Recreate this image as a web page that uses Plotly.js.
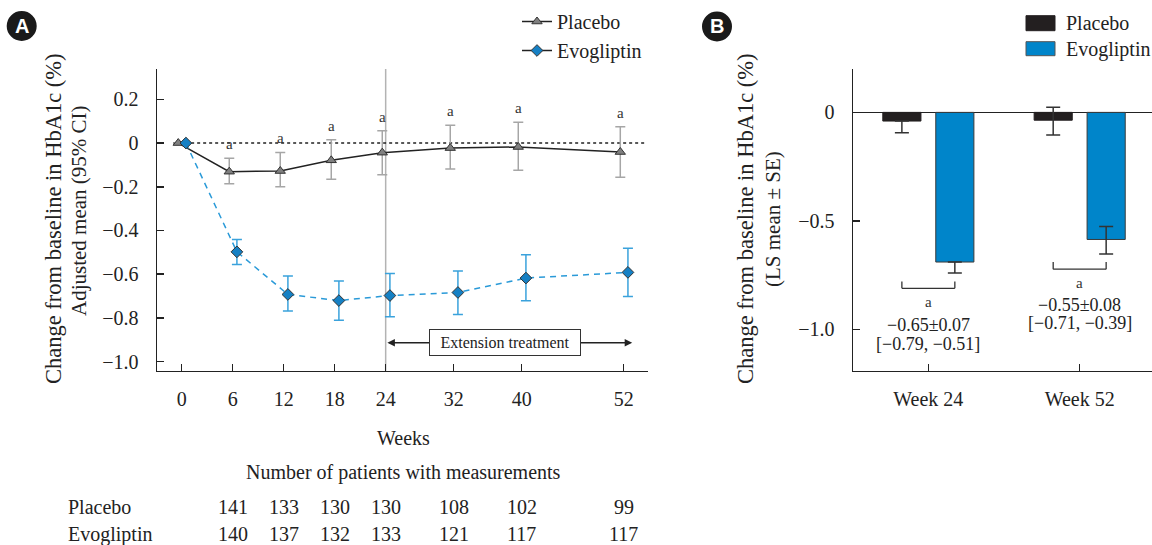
<!DOCTYPE html>
<html><head><meta charset="utf-8">
<script src="https://cdn.plot.ly/plotly-3.0.1.min.js"></script>
<style>html,body{margin:0;padding:0;background:#fff}</style>
</head><body><div id="chart" style="width:1152px;height:545px"></div>
<script>
// ---- Panel A data ----
const weeks = [0, 6, 12, 18, 24, 32, 40, 52];
const weekLabels = ['0', '6', '12', '18', '24', '32', '40', '52'];
const placeboMean = [0, -0.131, -0.128, -0.079, -0.044, -0.023, -0.018, -0.041];
const placeboHi   = [0, -0.070, -0.043,  0.015,  0.056,  0.081,  0.095,  0.075];
const placeboLo   = [0, -0.186, -0.200, -0.166, -0.145, -0.119, -0.125, -0.156];
const evogMean = [0, -0.498, -0.693, -0.721, -0.698, -0.684, -0.618, -0.592];
const evogHi   = [0, -0.441, -0.609, -0.631, -0.597, -0.586, -0.511, -0.482];
const evogLo   = [0, -0.556, -0.769, -0.811, -0.795, -0.785, -0.722, -0.702];
const sigWeeks = [6, 12, 18, 24, 32, 40, 52];
const yTicksA = [0.2, 0, -0.2, -0.4, -0.6, -0.8, -1.0];
const yTickTextA = ['0.2', '0', '\u22120.2', '\u22120.4', '\u22120.6', '\u22120.8', '\u22121.0'];
// patients with measurements
const countWeeks = [6, 12, 18, 24, 32, 40, 52];
const placeboN = [141, 133, 130, 130, 108, 102, 99];
const evogN = [140, 137, 132, 133, 121, 117, 117];

// ---- Panel B data ----
const bCats = ['Week 24', 'Week 52'];
const bPlacebo = [-0.040, -0.036];
const bEvog = [-0.690, -0.586];
const bPlaceboErrUp = [0, 0.060];
const bPlaceboErrDn = [0.054, 0.068];
const bEvogErrUp = [0, 0.060];
const bEvogErrDn = [0.050, 0.067];
const bDiffText = ['\u22120.65\u00b10.07', '\u22120.55\u00b10.08'];
const bCiText = ['[\u22120.79, \u22120.51]', '[\u22120.71, \u22120.39]'];

const W = 1152, H = 545;
const px = x => x / W;
const py = y => 1 - y / H;
const SERIF = 'Liberation Serif, Times New Roman, serif';
const GRAYM = '#808080', BLUEM = '#1580c4', BLUEL = '#2a9ad8', BLUEE = '#3aa2dc';

const pOff = -0.4, eOff = 0.5;
const placeboX = weeks.map(w => w + pOff);
const evogX = weeks.map(w => w + eOff);

const traces = [
  {
    x: placeboX, y: placeboMean, type: 'scatter', mode: 'lines+markers',
    xaxis: 'x', yaxis: 'y', showlegend: false, name: 'Placebo',
    line: {color: '#222', width: 1.5},
    marker: {symbol: 'triangle-up', size: 9, color: GRAYM, line: {color: '#333', width: 1}},
    error_y: {type: 'data', symmetric: false,
      array: placeboHi.map((h, i) => h - placeboMean[i]),
      arrayminus: placeboMean.map((m, i) => m - placeboLo[i]),
      color: '#a6a6a6', thickness: 1.5, width: 5}
  },
  {
    x: evogX, y: evogMean, type: 'scatter', mode: 'lines+markers',
    xaxis: 'x', yaxis: 'y', showlegend: false, name: 'Evogliptin',
    line: {color: BLUEL, width: 1.5, dash: '6px,5px'},
    marker: {symbol: 'diamond', size: 9, color: BLUEM, line: {color: '#333', width: 1}},
    error_y: {type: 'data', symmetric: false,
      array: evogHi.map((h, i) => h - evogMean[i]),
      arrayminus: evogMean.map((m, i) => m - evogLo[i]),
      color: BLUEE, thickness: 1.5, width: 5}
  },
  // legend-only entries for panel A (black lines as in original)
  {x: [null], y: [null], type: 'scatter', mode: 'lines+markers', name: 'Placebo',
   xaxis: 'x', yaxis: 'y', legend: 'legend',
   line: {color: '#222', width: 1.5},
   marker: {symbol: 'triangle-up', size: 9, color: GRAYM, line: {color: '#333', width: 1}}},
  {x: [null], y: [null], type: 'scatter', mode: 'lines+markers', name: 'Evogliptin',
   xaxis: 'x', yaxis: 'y', legend: 'legend',
   line: {color: '#222', width: 1.5},
   marker: {symbol: 'diamond', size: 9, color: BLUEM, line: {color: '#333', width: 1}}},
  // Panel B bars
  {
    x: bCats, y: bPlacebo, type: 'bar', name: 'Placebo', xaxis: 'x2', yaxis: 'y2', showlegend: false,
    marker: {color: '#231f20', line: {color: '#231f20', width: 1}},
    error_y: {type: 'data', symmetric: false, array: bPlaceboErrUp, arrayminus: bPlaceboErrDn,
      color: '#333', thickness: 1.5, width: 7}
  },
  {
    x: bCats, y: bEvog, type: 'bar', name: 'Evogliptin', xaxis: 'x2', yaxis: 'y2', showlegend: false,
    marker: {color: '#0085ca', line: {color: '#3a3a3a', width: 1}},
    error_y: {type: 'data', symmetric: false, array: bEvogErrUp, arrayminus: bEvogErrDn,
      color: '#333', thickness: 1.5, width: 7}
  }
];

const annotations = [];
const shapes = [];
const C = {xanchor: 'center', yanchor: 'middle', showarrow: false};
const L = {xanchor: 'left', yanchor: 'middle', showarrow: false};

// significance "a" above placebo CI
sigWeeks.forEach(w => {
  const i = weeks.indexOf(w);
  annotations.push(Object.assign({x: w + pOff, y: placeboHi[i], xref: 'x', yref: 'y', text: 'a',
    yshift: 14, font: {family: SERIF, size: 15, color: '#333'}}, C));
});

// reference lines panel A
shapes.push({type: 'line', xref: 'x', yref: 'y', x0: -1, x1: 54.5, y0: 0, y1: 0,
  line: {color: '#222', width: 1.5, dash: 'dot'}, layer: 'below'});
shapes.push({type: 'line', xref: 'x', yref: 'y domain', x0: 24, x1: 24, y0: 0, y1: 1,
  line: {color: '#b3b3b3', width: 1.5}, layer: 'below'});

// Extension treatment arrows + box
const extY = -0.914, extMid = 38;
annotations.push({x: 24.2, y: extY, ax: extMid, ay: extY, xref: 'x', yref: 'y', axref: 'x', ayref: 'y',
  text: '', showarrow: true, arrowhead: 2, arrowsize: 1, arrowwidth: 1.5, arrowcolor: '#222'});
annotations.push({x: 53.0, y: extY, ax: extMid, ay: extY, xref: 'x', yref: 'y', axref: 'x', ayref: 'y',
  text: '', showarrow: true, arrowhead: 2, arrowsize: 1, arrowwidth: 1.5, arrowcolor: '#222'});
annotations.push(Object.assign({x: extMid, y: extY, xref: 'x', yref: 'y', text: 'Extension treatment',
  bgcolor: '#fff', bordercolor: '#333', borderwidth: 1, borderpad: 3, width: 144, height: 19,
  font: {family: SERIF, size: 16, color: '#222'}}, C));

// axis titles panel A
annotations.push(Object.assign({x: px(53), y: py(219), xref: 'paper', yref: 'paper', textangle: -90,
  text: 'Change from baseline in HbA1c (%)', font: {family: SERIF, size: 22.5, color: '#222'}}, C));
annotations.push(Object.assign({x: px(79), y: py(211), xref: 'paper', yref: 'paper', textangle: -90,
  text: 'Adjusted mean (95% CI)', font: {family: SERIF, size: 21, color: '#222'}}, C));
annotations.push(Object.assign({x: px(403), y: py(438), xref: 'paper', yref: 'paper',
  text: 'Weeks', font: {family: SERIF, size: 20, color: '#222'}}, C));
annotations.push(Object.assign({x: px(403), y: py(472), xref: 'paper', yref: 'paper',
  text: 'Number of patients with measurements', font: {family: SERIF, size: 20, color: '#222'}}, C));

// table rows
annotations.push(Object.assign({x: px(66), y: py(507), xref: 'paper', yref: 'paper',
  text: 'Placebo', font: {family: SERIF, size: 20, color: '#222'}}, L));
annotations.push(Object.assign({x: px(66), y: py(534), xref: 'paper', yref: 'paper',
  text: 'Evogliptin', font: {family: SERIF, size: 20, color: '#222'}}, L));
countWeeks.forEach((w, i) => {
  annotations.push(Object.assign({x: w, y: py(507), xref: 'x', yref: 'paper',
    text: String(placeboN[i]), font: {family: SERIF, size: 20, color: '#222'}}, C));
  annotations.push(Object.assign({x: w, y: py(534), xref: 'x', yref: 'paper',
    text: String(evogN[i]), font: {family: SERIF, size: 20, color: '#222'}}, C));
});

// Panel badges
[['A', 21.7, 26], ['B', 717, 26.5]].forEach(([t, cx, cy]) => {
  shapes.push({type: 'circle', xref: 'paper', yref: 'paper', x0: px(cx - 15), x1: px(cx + 15),
    y0: py(cy + 15), y1: py(cy - 15), fillcolor: '#1a1a1a', line: {color: '#1a1a1a', width: 0}});
  annotations.push(Object.assign({x: px(cx), y: py(cy), xref: 'paper', yref: 'paper',
    text: '<b>' + t + '</b>', font: {family: 'Liberation Sans, Arial, sans-serif', size: 20, color: '#fff'}}, C));
});

// Panel B y title
annotations.push(Object.assign({x: px(745), y: py(219), xref: 'paper', yref: 'paper', textangle: -90,
  text: 'Change from baseline in HbA1c (%)', font: {family: SERIF, size: 22.5, color: '#222'}}, C));
annotations.push(Object.assign({x: px(773), y: py(219), xref: 'paper', yref: 'paper', textangle: -90,
  text: '(LS mean \u00b1 SE)', font: {family: SERIF, size: 21, color: '#222'}}, C));

// Panel B legend (manual)
shapes.push({type: 'rect', xref: 'paper', yref: 'paper', x0: px(1026), x1: px(1055), y0: py(30.7), y1: py(15.7),
  fillcolor: '#231f20', line: {color: '#231f20', width: 1}});
shapes.push({type: 'rect', xref: 'paper', yref: 'paper', x0: px(1026), x1: px(1055), y0: py(55.7), y1: py(41.7),
  fillcolor: '#0085ca', line: {color: '#555', width: 1}});
annotations.push(Object.assign({x: px(1064), y: py(22.7), xref: 'paper', yref: 'paper',
  text: 'Placebo', font: {family: SERIF, size: 20, color: '#222'}}, L));
annotations.push(Object.assign({x: px(1064), y: py(49.3), xref: 'paper', yref: 'paper',
  text: 'Evogliptin', font: {family: SERIF, size: 20, color: '#222'}}, L));

// Panel B brackets and difference texts
const bracketY = [-0.811, -0.723];
const bracketTickY = [-0.780, -0.690];
const aY = [-0.873, -0.785];
const diffY = [-0.980, -0.888];
const ciY = [-1.069, -0.972];
const half = 0.175;
bCats.forEach((c, i) => {
  const lineStyle = {color: '#333', width: 1.3};
  shapes.push({type: 'line', xref: 'x2', yref: 'y2', x0: i - half, x1: i + half, y0: bracketY[i], y1: bracketY[i], line: lineStyle});
  shapes.push({type: 'line', xref: 'x2', yref: 'y2', x0: i - half, x1: i - half, y0: bracketY[i], y1: bracketTickY[i], line: lineStyle});
  shapes.push({type: 'line', xref: 'x2', yref: 'y2', x0: i + half, x1: i + half, y0: bracketY[i], y1: bracketTickY[i], line: lineStyle});
  annotations.push(Object.assign({x: i, y: aY[i], xref: 'x2', yref: 'y2', text: 'a',
    font: {family: SERIF, size: 15, color: '#333'}}, C));
  annotations.push(Object.assign({x: i, y: diffY[i], xref: 'x2', yref: 'y2', text: bDiffText[i],
    font: {family: SERIF, size: 18, color: '#222'}}, C));
  annotations.push(Object.assign({x: i, y: ciY[i], xref: 'x2', yref: 'y2', text: bCiText[i],
    font: {family: SERIF, size: 18, color: '#222'}}, C));
});

const axisCommon = {showgrid: false, zeroline: false, showline: true, linecolor: '#222', linewidth: 1.5,
  ticks: 'inside', ticklen: 7, tickwidth: 1.5, tickcolor: '#222',
  tickfont: {family: SERIF, size: 20, color: '#222'}, fixedrange: true};

const layout = {
  width: W, height: H,
  margin: {l: 0, r: 0, t: 0, b: 0},
  paper_bgcolor: '#fff', plot_bgcolor: '#fff',
  font: {family: SERIF, color: '#222'},
  xaxis: Object.assign({}, axisCommon, {domain: [px(157), px(648)], range: [-2.9, 54.86],
    tickmode: 'array', tickvals: weeks, ticktext: weekLabels, anchor: 'y', ticklabelstandoff: 10}),
  yaxis: Object.assign({}, axisCommon, {domain: [py(370.7), py(69)], range: [-1.042, 0.339],
    tickmode: 'array', tickvals: yTicksA, ticktext: yTickTextA, anchor: 'x', ticklabelstandoff: 13}),
  xaxis2: Object.assign({}, axisCommon, {domain: [px(853), 1], range: [-0.498, 1.478], type: 'category',
    anchor: 'y2', ticklabelstandoff: 10}),
  yaxis2: Object.assign({}, axisCommon, {domain: [py(370.7), py(69)], range: [-1.191, 0.2],
    tickmode: 'array', tickvals: [0, -0.5, -1.0], ticktext: ['0', '\u22120.5', '\u22121.0'], anchor: 'x2',
    zeroline: true, zerolinecolor: '#222', zerolinewidth: 1.5, ticklabelstandoff: 13}),
  barmode: 'group', bargap: 0.30, bargroupgap: 0.28,
  legend: {x: px(517), xanchor: 'left', y: py(2), yanchor: 'top', bgcolor: 'rgba(0,0,0,0)',
    font: {family: SERIF, size: 20, color: '#222'}, itemwidth: 30, tracegroupgap: 0},
  showlegend: true,
  shapes: shapes,
  annotations: annotations
};

Plotly.newPlot('chart', traces, layout, {displayModeBar: false, staticPlot: true});
</script>
</body></html>
